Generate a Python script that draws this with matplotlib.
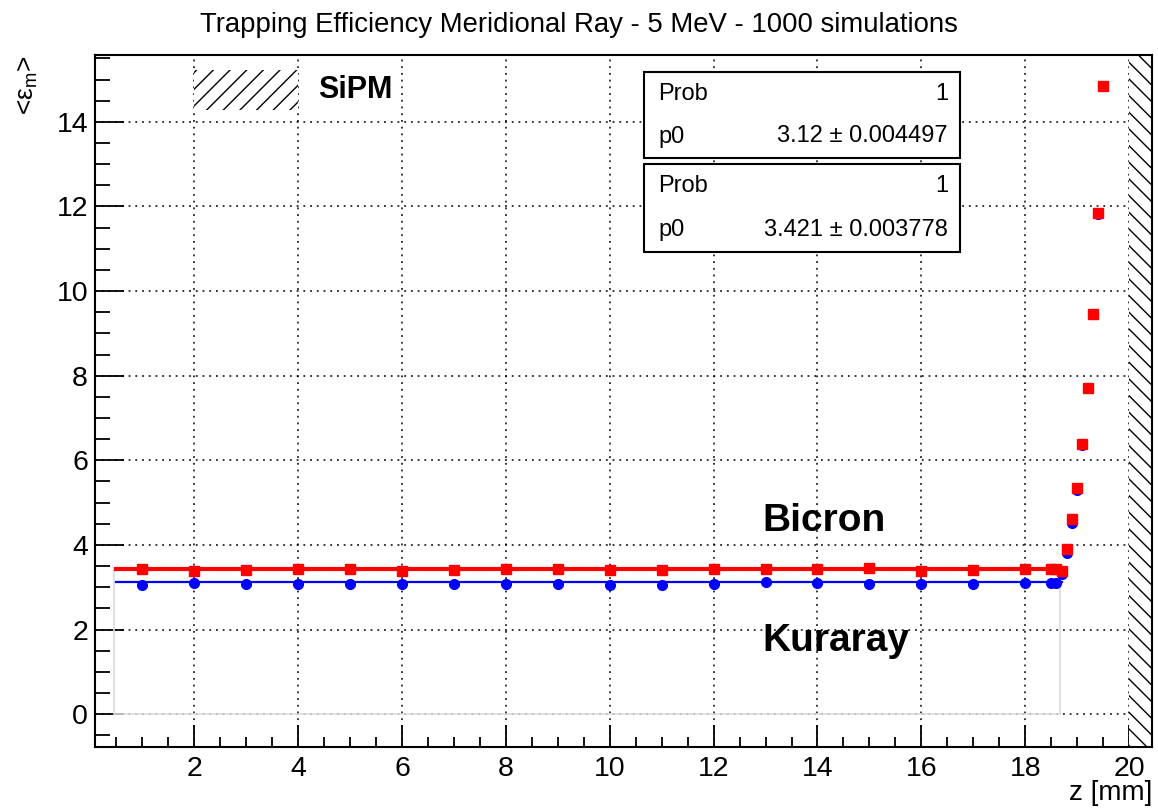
import matplotlib
matplotlib.use("Agg")
import matplotlib.pyplot as plt
from matplotlib.patches import Rectangle
from matplotlib.ticker import MultipleLocator

plt.rcParams['font.family'] = ['Liberation Sans', 'DejaVu Sans']
plt.rcParams['mathtext.fontset'] = 'custom'
plt.rcParams['mathtext.rm'] = 'Liberation Sans'
plt.rcParams['mathtext.it'] = 'Liberation Sans:italic'
plt.rcParams['hatch.linewidth'] = 1.0

# Mean trapping efficiency along the fibre (z in mm)
z = [1, 2, 3, 4, 5, 6, 7, 8, 9, 10, 11, 12, 13, 14, 15, 16, 17, 18,
     18.5, 18.6, 18.7, 18.8, 18.9, 19.0, 19.1, 19.2, 19.3, 19.4, 19.5]
kuraray = [3.05, 3.10, 3.08, 3.07, 3.08, 3.07, 3.08, 3.07, 3.08, 3.06,
           3.05, 3.07, 3.12, 3.09, 3.07, 3.07, 3.08, 3.10,
           3.10, 3.10, 3.32, 3.80, 4.51, 5.30, 6.37, 7.72, 9.45, 11.82, 14.84]
bicron = [3.42, 3.39, 3.40, 3.43, 3.44, 3.39, 3.40, 3.42, 3.43, 3.41,
          3.40, 3.43, 3.44, 3.44, 3.45, 3.39, 3.40, 3.42,
          3.44, 3.44, 3.39, 3.90, 4.61, 5.34, 6.38, 7.70, 9.45, 11.84, 14.84]

# Constant fits (p0) over the flat region
fit_range = [0.5, 18.7]
p0_kuraray = 3.12
p0_bicron = 3.421
stat_kuraray = [("Prob", "1"), ("p0", "3.12 ± 0.004497")]
stat_bicron = [("Prob", "1"), ("p0", "3.421 ± 0.003778")]

# Histogram frame behind the graphs
frame_x = [0.45, 18.66]
frame_top = 3.42

# SiPM region at the fibre end
sipm_start = 20.0

W, H = 1158, 810
fig = plt.figure(figsize=(W / 100, H / 100), dpi=100)
ax = fig.add_axes([95 / W, 1 - 746.7 / H, (1152 - 95) / W, (746.7 - 55) / H])

xmin, xmax = 0.09, 20.44
ymin, ymax = -0.77, 15.58
ax.set_xlim(xmin, xmax)
ax.set_ylim(ymin, ymax)

# grid
ax.grid(True, which='major', color='black', linestyle=(0, (1.2, 3.2)), linewidth=1.1)
ax.set_axisbelow(True)

# background histogram frame
ax.add_patch(Rectangle((frame_x[0], 0), frame_x[1] - frame_x[0], frame_top,
                       facecolor='none', edgecolor='#dcdcdc', linewidth=1.2, zorder=1.5))

# SiPM hatched region
ax.add_patch(Rectangle((sipm_start, ymin), xmax - sipm_start, ymax - ymin,
                       facecolor='white', edgecolor='black', hatch='\\\\',
                       linewidth=0, zorder=1.6))

# fit lines
ax.plot(fit_range, [p0_kuraray, p0_kuraray], color='blue', linewidth=1.6, zorder=3)
ax.plot(fit_range, [p0_bicron, p0_bicron], color='red', linewidth=3.0, zorder=3)

# data
ax.plot(z, kuraray, linestyle='none', marker='o', markersize=7, color='blue', zorder=4)
ax.plot(z, bicron, linestyle='none', marker='s', markersize=7, color='red', zorder=5)

# SiPM legend entry
ax.add_patch(Rectangle((2.0, 14.28), 2.0, 0.94, facecolor='white', edgecolor='black',
                       hatch='//', linewidth=0, zorder=2))
ax.text(4.39, 14.75, "SiPM", fontsize=22, fontweight='bold', va='center', ha='left', zorder=6)

ax.text(12.94, 4.56, "Bicron", fontsize=28, fontweight='bold', va='center', ha='left', zorder=6)
ax.text(12.94, 1.73, "Kuraray", fontsize=28, fontweight='bold', va='center', ha='left', zorder=6)

# ticks
ax.xaxis.set_major_locator(MultipleLocator(2))
ax.xaxis.set_minor_locator(MultipleLocator(0.5))
ax.yaxis.set_major_locator(MultipleLocator(2))
ax.yaxis.set_minor_locator(MultipleLocator(0.5))
ax.tick_params(axis='x', which='major', direction='in', length=16, width=1.3, labelsize=20.5, pad=7)
ax.tick_params(axis='x', which='minor', direction='in', length=7.5, width=1.3)
ax.tick_params(axis='y', which='major', direction='in', length=21, width=1.3, labelsize=20.5, pad=5)
ax.tick_params(axis='y', which='minor', direction='in', length=11, width=1.3)
ax.tick_params(top=False, right=False, which='both')
ax.set_xticks([2, 4, 6, 8, 10, 12, 14, 16, 18, 20])
ax.set_yticks([0, 2, 4, 6, 8, 10, 12, 14])
for s in ax.spines.values():
    s.set_linewidth(1.5)

# axis titles
fig.text(1152 / W, 1 - 793 / H, "z [mm]", fontsize=20, ha='right', va='center')
fig.text(28 / W, 1 - 55 / H, "<ε$_{\\mathrm{m}}$>", fontsize=19, rotation=90,
         ha='center', va='top')

fig.text(0.5, 1 - 25 / H, "Trapping Efficiency Meridional Ray - 5 MeV - 1000 simulations",
         fontsize=19.8, ha='center', va='center')

# fit statistics boxes
def stat_box(y_top, y_bot, rows):
    fig.patches.append(Rectangle((644 / W, 1 - y_bot / H), (960 - 644) / W, (y_bot - y_top) / H,
                                 transform=fig.transFigure, facecolor='white',
                                 edgecolor='black', linewidth=1.5, zorder=10))
    n = len(rows)
    step = (y_bot - y_top) / n
    for i, (name, val) in enumerate(rows):
        yc = y_top + step * (i + 0.5)
        fig.text(658 / W, 1 - yc / H, name, fontsize=17, ha='left', va='center', zorder=11)
        fig.text(948 / W, 1 - yc / H, val, fontsize=17, ha='right', va='center', zorder=11)

stat_box(72, 158, stat_kuraray)
stat_box(164, 252, stat_bicron)

fig.savefig("out.png", dpi=100)
